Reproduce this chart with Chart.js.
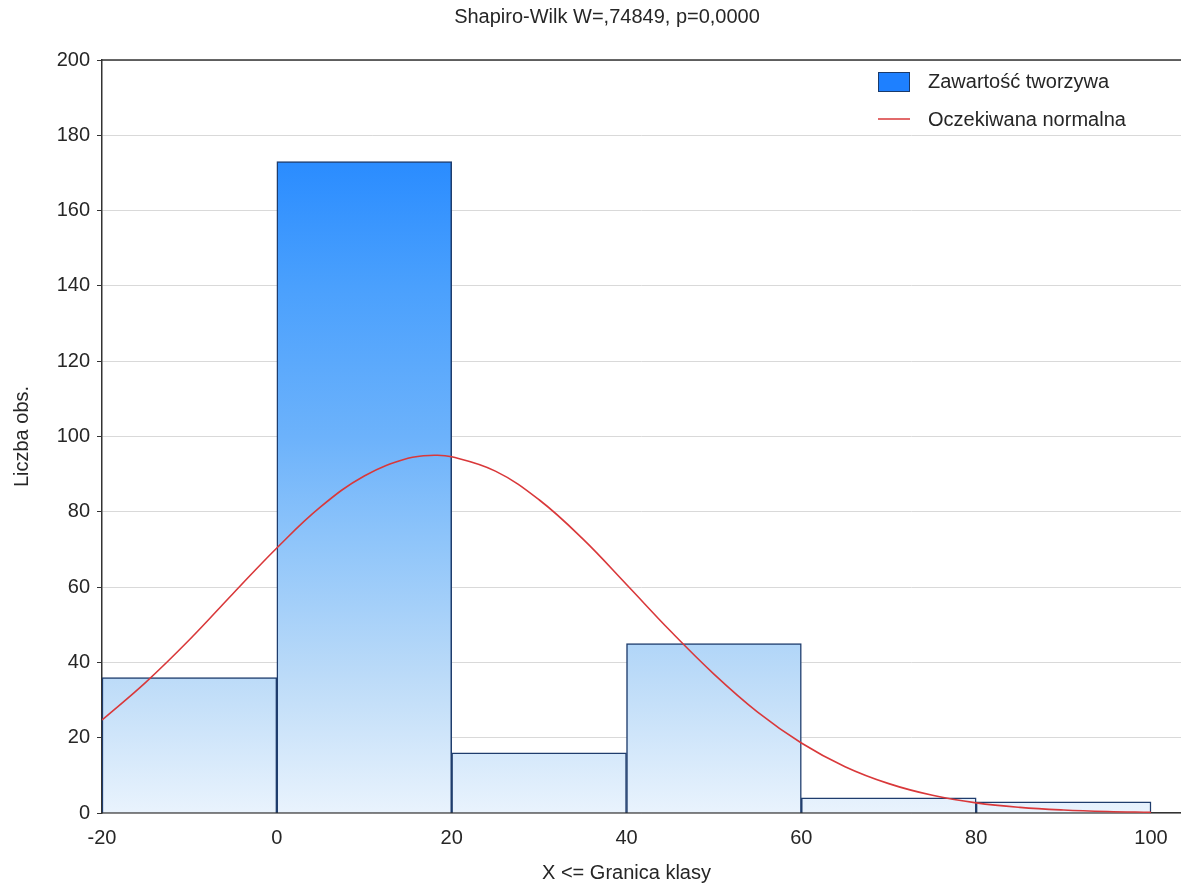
<!DOCTYPE html>
<html>
<head>
<meta charset="utf-8">
<script src="https://cdn.jsdelivr.net/npm/chart.js@4/dist/chart.umd.min.js"></script>
<style>
html,body{margin:0;padding:0;background:#fff;}
#wrap{width:1181px;height:886px;position:relative;}
</style>
</head>
<body>
<div id="wrap"><canvas id="c" width="1181" height="886"></canvas></div>
<script>
// ---- data ----
const titleText = 'Shapiro-Wilk W=,74849, p=0,0000';
const xAxisTitle = 'X <= Granica klasy';
const yAxisTitle = 'Liczba obs.';
const barLabel = 'Zawartość tworzywa';
const lineLabel = 'Oczekiwana normalna';
const binCenters = [-10, 10, 30, 50, 70, 90];
const binCounts = [36, 173, 16, 45, 4, 3];
const curveX = [-20,-15,-10,-5,0,5,10,15,18,20,25,30,35,40,45,50,55,60,65,70,75,80,85,90,95,100];
const curveY = [24.7,34.7,46.0,58.3,70.4,81.3,89.5,94.2,95.0,94.6,90.8,83.2,72.8,60.7,48.4,36.9,26.8,18.6,12.3,7.8,4.7,2.7,1.5,0.8,0.4,0.2];
const xTickValues = [-20, 0, 20, 40, 60, 80, 100];
const yTickValues = [0, 20, 40, 60, 80, 100, 120, 140, 160, 180, 200];

const FONT = '"Liberation Sans", Arial, sans-serif';
const TEXT = '#262626';

let gradCache = null;
function barGradient(context) {
  const chart = context.chart;
  const area = chart.chartArea;
  if (!area) return '#8cc4fa';
  const key = area.top + ':' + area.bottom;
  if (gradCache && gradCache.key === key) return gradCache.g;
  const g = chart.ctx.createLinearGradient(0, area.bottom, 0, area.top);
  g.addColorStop(0, '#e9f3fd');
  g.addColorStop(0.18, '#bcdbf8');
  g.addColorStop(0.36, '#8fc5fa');
  g.addColorStop(0.5, '#6cb2fb');
  g.addColorStop(0.7, '#4aa0fd');
  g.addColorStop(0.865, '#2a8cff');
  g.addColorStop(1, '#1a82ff');
  gradCache = {key, g};
  return g;
}

const overlay = {
  id: 'overlay',
  afterDraw(chart) {
    const {ctx, chartArea, scales} = chart;
    ctx.save();
    ctx.strokeStyle = '#333';
    ctx.lineWidth = 1.5;
    ctx.beginPath();
    ctx.moveTo(chartArea.left, chartArea.top);
    ctx.lineTo(chartArea.right, chartArea.top);
    ctx.stroke();
    ctx.fillStyle = TEXT;
    ctx.font = '20px ' + FONT;
    ctx.textAlign = 'center';
    ctx.textBaseline = 'middle';
    ctx.fillText(titleText, 607, 17);
    const xc = (scales.x.getPixelForValue(xTickValues[0]) + scales.x.getPixelForValue(xTickValues[xTickValues.length - 1])) / 2;
    ctx.fillText(xAxisTitle, xc, 873);
    const lx = chartArea.right - 303;
    ctx.fillStyle = '#1e80ff';
    ctx.fillRect(lx, 72, 32, 20);
    ctx.strokeStyle = '#1a3a6a';
    ctx.lineWidth = 1;
    ctx.strokeRect(lx + 0.5, 72.5, 31, 19);
    ctx.strokeStyle = '#d9383a';
    ctx.lineWidth = 1.5;
    ctx.beginPath();
    ctx.moveTo(lx, 119);
    ctx.lineTo(lx + 32, 119);
    ctx.stroke();
    ctx.fillStyle = TEXT;
    ctx.textAlign = 'left';
    ctx.fillText(barLabel, lx + 50, 82);
    ctx.fillText(lineLabel, lx + 50, 120);
    ctx.restore();
  }
};

new Chart(document.getElementById('c'), {
  type: 'bar',
  data: {
    datasets: [
      {
        type: 'line',
        label: lineLabel,
        data: curveX.map((x, i) => ({x, y: curveY[i]})),
        borderColor: '#d9383a',
        borderWidth: 1.6,
        pointRadius: 0,
        tension: 0.4,
        fill: false,
        order: 0
      },
      {
        type: 'bar',
        label: barLabel,
        data: binCenters.map((x, i) => ({x, y: binCounts[i]})),
        backgroundColor: barGradient,
        borderColor: '#1f3d6d',
        borderWidth: 1.5,
        barPercentage: 1,
        categoryPercentage: 1,
        order: 1
      }
    ]
  },
  options: {
    responsive: false,
    animation: false,
    devicePixelRatio: 1,
    layout: {padding: {top: 60, right: 0, bottom: 0, left: 0}},
    plugins: {legend: {display: false}, tooltip: {enabled: false}, title: {display: false}},
    scales: {
      x: {
        type: 'linear',
        offset: false,
        min: -20,
        max: 103.43,
        afterBuildTicks: (s) => { s.ticks = xTickValues.map(v => ({value: v})); },
        afterFit: (s) => { s.height = 73; },
        grid: {display: true, drawOnChartArea: false, drawTicks: false},
        border: {display: true, color: '#333', width: 1.5},
        ticks: {color: TEXT, font: {family: FONT, size: 20}, padding: 13, maxRotation: 0, autoSkip: false},
        title: {display: false}
      },
      y: {
        min: 0,
        max: 200,
        afterBuildTicks: (s) => { s.ticks = yTickValues.map(v => ({value: v})); },
        afterFit: (s) => { s.width = 102; },
        grid: {color: '#d9d9d9', lineWidth: 1, tickColor: '#333', tickLength: 5, drawTicks: true},
        border: {display: true, color: '#333', width: 1.5},
        ticks: {color: TEXT, font: {family: FONT, size: 20}, padding: 7},
        title: {display: true, text: yAxisTitle, color: TEXT, font: {family: FONT, size: 20}, padding: {top: 10, bottom: 0}}
      }
    }
  },
  plugins: [overlay]
});
</script>
</body>
</html>
